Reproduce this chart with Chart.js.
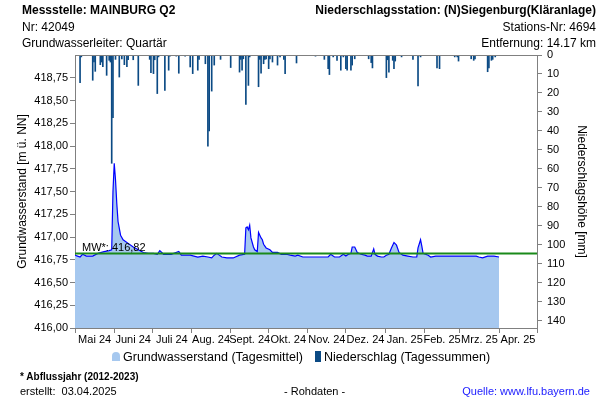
<!DOCTYPE html>
<html>
<head>
<meta charset="utf-8">
<script src="https://cdn.jsdelivr.net/npm/chart.js@4.4.1/dist/chart.umd.min.js"></script>
<style>
body { margin: 0; background: #fff; font-family: "Liberation Sans", Arial, sans-serif; }
#wrap { position: relative; width: 600px; height: 400px; overflow: hidden; }
#chart { position: absolute; left: 0; top: 0; }
.t { position: absolute; font-size: 12px; line-height: 14px; color: #000; white-space: nowrap; }
.b { font-weight: bold; }
.r { text-align: right; right: 4px; }
</style>
</head>
<body>
<div id="wrap">
	<canvas id="chart" width="600" height="400"></canvas>

	<div class="t b" style="left:22px;top:3px;">Messstelle: MAINBURG Q2</div>
	<div class="t" style="left:22px;top:20px;">Nr: 42049</div>
	<div class="t" style="left:22px;top:36px;">Grundwasserleiter: Quartär</div>
	<div class="t b r" style="top:3px;">Niederschlagsstation: (N)Siegenburg(Kläranlage)</div>
	<div class="t r" style="top:20px;">Stations-Nr: 4694</div>
	<div class="t r" style="top:36px;">Entfernung: 14.17 km</div>

	<div class="t" style="left:82px;top:240px;font-size:11px;">MW*: 416,82</div>

	<div style="position:absolute;left:112px;top:352px;width:8px;height:9px;background:#a6c8ef;border-radius:4px 4px 0 0;"></div>
	<div class="t" style="left:123px;top:350px;font-size:12.5px;">Grundwasserstand (Tagesmittel)</div>
	<div style="position:absolute;left:315px;top:351px;width:6px;height:11px;background:#0b4a84;"></div>
	<div class="t" style="left:324px;top:350px;font-size:12.5px;">Niederschlag (Tagessummen)</div>

	<div class="t b" style="left:20px;top:370px;font-size:10px;">* Abflussjahr (2012-2023)</div>
	<div class="t" style="left:20px;top:384px;font-size:11px;">erstellt:&nbsp; 03.04.2025</div>
	<div class="t" style="left:284px;top:384px;font-size:11px;">- Rohdaten -</div>
	<div class="t" style="right:10px;top:384px;font-size:11px;color:#1a1aff;">Quelle: www.lfu.bayern.de</div>
</div>

<script>
// Tage ab 01.05.2024
var monatStart = [0, 31, 61, 92, 123, 153, 184, 214, 245, 276, 304, 335, 365];
var monatLabel = ['Mai 24', 'Juni 24', 'Juli 24', 'Aug. 24', 'Sept. 24', 'Okt. 24', 'Nov. 24', 'Dez. 24', 'Jan. 25', 'Feb. 25', 'Mrz. 25', 'Apr. 25'];

// Grundwasserstand (Tagesmittel) [m ü. NN]
var gwTag = [0, 2, 4, 6, 9, 14, 18, 23, 27, 29, 30, 31, 32, 33, 34, 36, 38, 42, 46, 50, 54, 58, 62, 65, 67, 70, 76, 82, 84, 91, 97, 101, 105, 108, 110, 112, 116, 120, 125, 130, 134, 135, 136, 137, 138, 139, 141, 142, 144, 145, 147, 148, 149, 151, 154, 156, 160, 163, 167, 170, 174, 176, 180, 188, 200, 202, 205, 209, 212, 214, 216, 218, 219, 221, 223, 226, 229, 231, 234, 236, 237, 239, 242, 244, 246, 248, 250, 252, 254, 256, 259, 263, 267, 270, 271, 273, 274, 275, 279, 281, 285, 289, 292, 308, 317, 319, 322, 326, 329, 331, 335];
var gwStand = [416.80, 416.79, 416.78, 416.81, 416.79, 416.79, 416.82, 416.84, 416.85, 416.86, 417.50, 417.81, 417.63, 417.37, 417.17, 417.02, 416.97, 416.93, 416.89, 416.86, 416.83, 416.82, 416.82, 416.81, 416.85, 416.81, 416.81, 416.84, 416.80, 416.80, 416.78, 416.79, 416.78, 416.77, 416.80, 416.82, 416.78, 416.77, 416.77, 416.80, 416.81, 417.10, 417.11, 417.08, 417.13, 416.99, 416.89, 416.86, 416.84, 417.05, 416.99, 416.97, 416.92, 416.88, 416.86, 416.83, 416.83, 416.81, 416.81, 416.80, 416.79, 416.80, 416.78, 416.78, 416.78, 416.81, 416.78, 416.78, 416.81, 416.79, 416.81, 416.82, 416.89, 416.89, 416.83, 416.81, 416.80, 416.79, 416.79, 416.87, 416.81, 416.79, 416.78, 416.78, 416.80, 416.81, 416.88, 416.94, 416.91, 416.83, 416.80, 416.79, 416.78, 416.78, 416.88, 416.97, 416.90, 416.82, 416.80, 416.78, 416.79, 416.79, 416.79, 416.79, 416.79, 416.78, 416.77, 416.79, 416.79, 416.79, 416.78];
var mittelwert = 416.82;

// Niederschlag (Tagessummen) [mm]
var nsTag = [4, 5, 14, 15, 16, 20, 21, 22, 25, 27, 28, 29, 30, 32, 35, 37, 39, 41, 42, 46, 50, 59, 60, 62, 63, 65, 66, 71, 74, 75, 80, 82, 87, 91, 93, 97, 98, 103, 105, 106, 108, 110, 115, 123, 130, 131, 132, 133, 135, 137, 138, 145, 146, 147, 149, 150, 151, 153, 154, 156, 160, 162, 165, 166, 175, 190, 197, 200, 201, 204, 207, 210, 212, 214, 215, 218, 219, 221, 232, 234, 235, 246, 247, 248, 251, 252, 253, 258, 267, 271, 273, 286, 288, 300, 302, 303, 313, 315, 316, 326, 327, 329, 330, 332];
var nsMm = [14.5, 1, 13.3, 3.7, 8.6, 5.1, 3.7, 6.1, 10.7, 2.8, 3.7, 57, 33, 2.3, 11.6, 2, 5.1, 6.1, 2.5, 2.5, 16, 2.3, 9.3, 9.8, 2.5, 20.3, 1, 18.6, 8, 0.6, 0.6, 9.6, 0.6, 6.3, 9.8, 8, 2.3, 4.6, 48, 40, 19, 5.3, 2.3, 6.6, 9, 2.3, 8, 2, 26, 16, 1, 16.7, 2.3, 9.6, 4.6, 2.3, 2, 7.2, 2, 3.7, 5.3, 1, 2.3, 9.8, 4.2, 0.6, 2.3, 7.2, 10.3, 1, 2.8, 8, 1, 7.2, 8, 8, 5.3, 2, 2, 4, 6.8, 11.9, 2.5, 9, 2.8, 7.2, 3.2, 1, 2.3, 16.3, 1, 6.8, 7.2, 1, 1, 3.2, 2, 2.8, 2, 8.8, 6.8, 2.8, 2.3, 1];

var gwTicks = [416, 416.25, 416.5, 416.75, 417, 417.25, 417.5, 417.75, 418, 418.25, 418.5, 418.75];
var nsTicks = [0, 10, 20, 30, 40, 50, 60, 70, 80, 90, 100, 110, 120, 130, 140];

var grau = '#808080';

var rahmenOben = {
	id: 'rahmenOben',
	afterDraw: function(chart) {
		var a = chart.chartArea, c = chart.ctx;
		c.save();
		c.strokeStyle = grau;
		c.lineWidth = 1;
		c.beginPath();
		c.moveTo(a.left, a.top + 0.5);
		c.lineTo(a.right, a.top + 0.5);
		c.stroke();
		c.restore();
	}
};

Chart.defaults.font.family = "'Liberation Sans', Arial, sans-serif";
Chart.defaults.font.size = 11;
Chart.defaults.color = '#000';

var ctx = document.getElementById('chart').getContext('2d');
var chart = new Chart(ctx, {
	data: {
		datasets: [{
			type: 'bar',
			label: 'Niederschlag (Tagessummen)',
			data: nsTag.map(function(d, i) { return { x: d, y: nsMm[i] }; }),
			backgroundColor: '#0b4a84',
			barThickness: 1,
			xAxisID: 'x',
			yAxisID: 'yR',
			order: 0
		}, {
			type: 'line',
			label: 'MW',
			data: [{ x: 0, y: mittelwert }, { x: 365, y: mittelwert }],
			borderColor: '#1a8a1a',
			borderWidth: 2,
			pointRadius: 0,
			fill: false,
			xAxisID: 'x',
			yAxisID: 'y',
			order: 1
		}, {
			type: 'line',
			label: 'Grundwasserstand (Tagesmittel)',
			data: gwTag.map(function(d, i) { return { x: d, y: gwStand[i] }; }),
			borderColor: '#0000ff',
			backgroundColor: '#a6c8ef',
			borderWidth: 1.2,
			pointRadius: 0,
			tension: 0,
			fill: 'start',
			xAxisID: 'x',
			yAxisID: 'y',
			order: 2
		}]
	},
	options: {
		responsive: false,
		animation: false,
		devicePixelRatio: 1,
		layout: { padding: { top: 55, left: 0, right: 0, bottom: 0 } },
		plugins: {
			legend: { display: false },
			tooltip: { enabled: false }
		},
		scales: {
			x: {
				type: 'linear',
				position: 'bottom',
				offset: false,
				min: 0,
				max: 365,
				afterBuildTicks: function(s) { s.ticks = monatStart.map(function(v) { return { value: v }; }); },
				afterFit: function(s) { s.height = 5; },
				ticks: { display: false },
				grid: { offset: false, drawOnChartArea: false, color: grau, tickLength: 5 },
				border: { color: grau }
			},
			xl: {
				type: 'linear',
				position: 'bottom',
				offset: false,
				min: 0,
				max: 365,
				afterBuildTicks: function(s) {
					s.ticks = monatLabel.map(function(l, i) { return { value: (monatStart[i] + monatStart[i + 1]) / 2 }; });
				},
				afterFit: function(s) { s.height = 67; },
				ticks: {
					autoSkip: false,
					maxRotation: 0,
					padding: 0,
					callback: function(v, i) { return monatLabel[i]; }
				},
				grid: { display: false, drawTicks: false },
				border: { display: false }
			},
			y: {
				type: 'linear',
				position: 'left',
				min: 416,
				max: 419,
				afterBuildTicks: function(s) { s.ticks = gwTicks.map(function(v) { return { value: v }; }); },
				afterFit: function(s) { s.width = 75; },
				ticks: {
					padding: 2,
					callback: function(v) { return v.toFixed(2).replace('.', ','); }
				},
				grid: { drawOnChartArea: false, color: grau, tickLength: 5 },
				border: { color: grau },
				title: { display: true, text: 'Grundwasserstand [m ü. NN]', font: { size: 12 }, padding: { top: 15 } }
			},
			yR: {
				type: 'linear',
				position: 'right',
				reverse: true,
				min: 0,
				max: 143.7,
				afterBuildTicks: function(s) { s.ticks = nsTicks.map(function(v) { return { value: v }; }); },
				afterFit: function(s) { s.width = 63; },
				ticks: { padding: 5 },
				grid: { drawOnChartArea: false, color: grau, tickLength: 5 },
				border: { color: grau },
				title: { display: true, text: 'Niederschlagshöhe [mm]', font: { size: 12 }, padding: { top: 11 } }
			}
		}
	},
	plugins: [rahmenOben]
});
</script>
</body>
</html>
